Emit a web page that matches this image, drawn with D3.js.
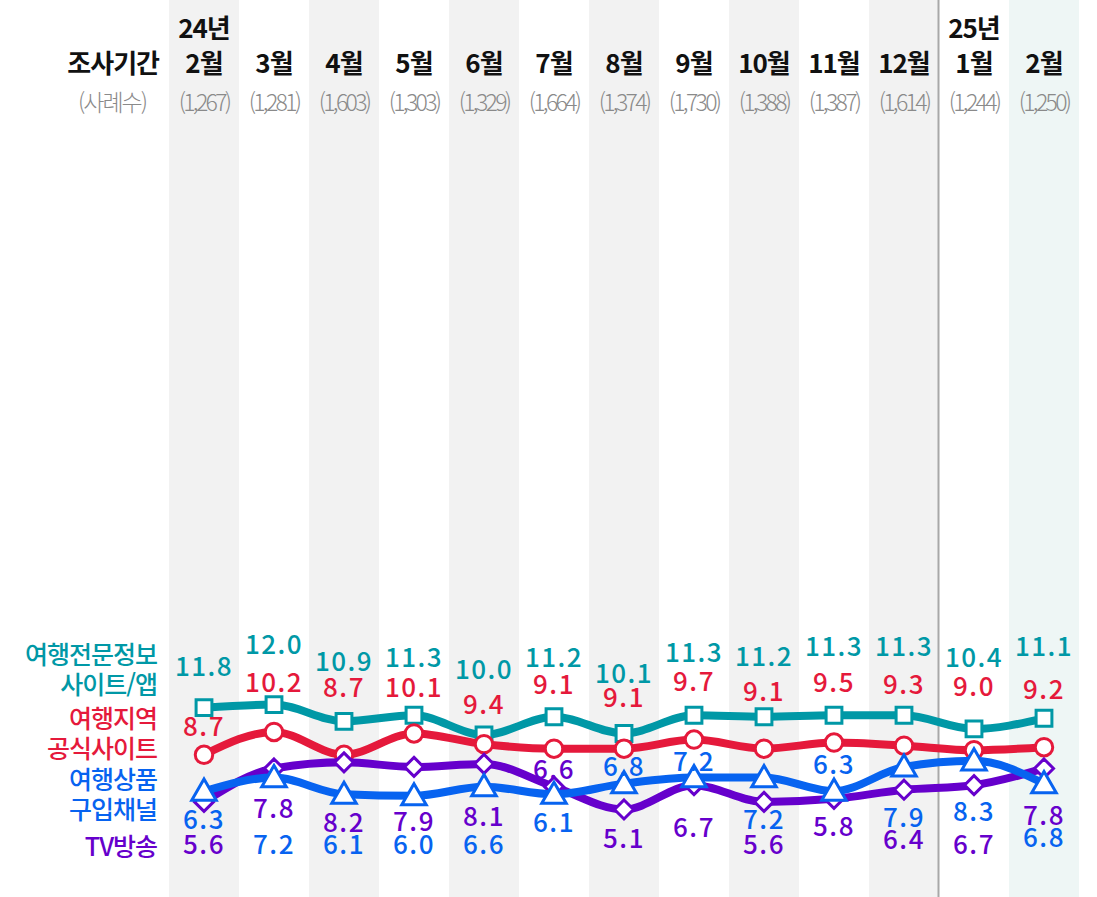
<!DOCTYPE html>
<html lang="ko">
<head>
    <meta charset="UTF-8">
    <title>조사기간별 여행정보 획득 경로</title>
    <script src="https://d3js.org/d3.v7.min.js"></script>
    <style>
        body {
            margin: 0;
            font-family: "Noto Sans CJK KR", "Noto Sans", sans-serif;
            background: #fff;
        }
        .month { font-size: 26px; font-weight: 700; fill: #111; letter-spacing: -1px; }
        .count { font-size: 23px; font-weight: 300; fill: #8a8a8a; letter-spacing: -2.7px; }
        .legend { font-size: 25px; font-weight: 500; letter-spacing: -1px; }
        .value { font-size: 26px; font-weight: 500; letter-spacing: 1.5px; }
    </style>
</head>
<body>
    <div id="chart"></div>
    <script>
        // Survey periods and sample sizes
        const years = ["24년", "", "", "", "", "", "", "", "", "", "", "25년", ""];
        const months = ["2월", "3월", "4월", "5월", "6월", "7월", "8월", "9월", "10월", "11월", "12월", "1월", "2월"];
        const counts = ["(1,267)", "(1,281)", "(1,603)", "(1,303)", "(1,329)", "(1,664)", "(1,374)", "(1,730)", "(1,388)", "(1,387)", "(1,614)", "(1,244)", "(1,250)"];

        // Series values (%)
        const travelSites = [11.8, 12.0, 10.9, 11.3, 10.0, 11.2, 10.1, 11.3, 11.2, 11.3, 11.3, 10.4, 11.1];
        const regionSites = [8.7, 10.2, 8.7, 10.1, 9.4, 9.1, 9.1, 9.7, 9.1, 9.5, 9.3, 9.0, 9.2];
        const tvShows = [5.6, 7.8, 8.2, 7.9, 8.1, 6.6, 5.1, 6.7, 5.6, 5.8, 6.4, 6.7, 7.8];
        const productChannels = [6.3, 7.2, 6.1, 6.0, 6.6, 6.1, 6.8, 7.2, 7.2, 6.3, 7.9, 8.3, 6.8];

        // Label nudges (px from the point), picked to avoid overlaps
        const travelDy = [-41, -60, -59, -57, -65, -59, -60, -62, -60, -68, -68, -71, -71];
        const regionDy = [-28, -49, -67, -46, -39, -64, -51, -58, -57, -60, -61, -63, -57];
        const tvDy = [43, 40, 61, 55, 53, -17, 29, 43, 43, 28, 50, 60, 47];
        const productDy = [29, 67, 51, 49, 58, 29, -17, -16, 42, -26, 51, 51, 54];

        const series = [
            { name: ["여행전문정보", "사이트/앱"], values: travelSites, dy: travelDy, color: "#0098a6", symbol: d3.symbolSquare, size: 250, legendY: [655, 685] },
            { name: ["여행지역", "공식사이트"], values: regionSites, dy: regionDy, color: "#e5193b", symbol: d3.symbolCircle, size: 240, legendY: [719, 749] },
            { name: ["TV방송"], values: tvShows, dy: tvDy, color: "#6600cc", symbol: d3.symbolDiamond2, size: 230, legendY: [847] },
            { name: ["여행상품", "구입채널"], values: productChannels, dy: productDy, color: "#0763f0", symbol: d3.symbolTriangle, size: 260, legendY: [780, 810] }
        ];

        const width = 1097;
        const height = 897;

        const svg = d3.select("#chart")
            .append("svg")
            .attr("width", width)
            .attr("height", height);

        const x = d3.scaleBand()
            .domain(d3.range(months.length))
            .range([169, 1079]);
        const cx = i => x(i) + x.bandwidth() / 2;

        const y = d3.scaleLinear()
            .domain([0, 50])
            .range([887, 127]);

        // Column shading
        svg.selectAll(".band")
            .data(d3.range(months.length).filter(i => i % 2 === 0))
            .enter().append("rect")
            .attr("x", i => x(i))
            .attr("y", 0)
            .attr("width", x.bandwidth())
            .attr("height", height)
            .attr("fill", i => i === months.length - 1 ? "#eef6f5" : "#f2f2f2");

        // Year divider between 12월 and 1월
        svg.append("line")
            .attr("x1", x(11) - 0.5)
            .attr("x2", x(11) - 0.5)
            .attr("y1", 0)
            .attr("y2", height)
            .attr("stroke", "#a8a8a8")
            .attr("stroke-width", 2);

        // Header
        svg.append("text")
            .attr("class", "month")
            .attr("x", 159)
            .attr("y", 73)
            .attr("text-anchor", "end")
            .text("조사기간");
        svg.append("text")
            .attr("class", "count")
            .attr("x", 112)
            .attr("y", 111)
            .attr("text-anchor", "middle")
            .style("letter-spacing", "-2px")
            .text("(사례수)");

        svg.selectAll(".year")
            .data(years)
            .enter().append("text")
            .attr("class", "month")
            .attr("x", (d, i) => cx(i))
            .attr("y", 38)
            .attr("text-anchor", "middle")
            .text(d => d);

        svg.selectAll(".mon")
            .data(months)
            .enter().append("text")
            .attr("class", "month")
            .attr("x", (d, i) => cx(i))
            .attr("y", 73)
            .attr("text-anchor", "middle")
            .text(d => d);

        svg.selectAll(".cnt")
            .data(counts)
            .enter().append("text")
            .attr("class", "count")
            .attr("x", (d, i) => cx(i))
            .attr("y", 111)
            .attr("text-anchor", "middle")
            .text(d => d);

        // Lines, markers and legend
        const line = d3.line()
            .x((d, i) => cx(i))
            .y(d => y(d))
            .curve(d3.curveMonotoneX);

        series.forEach(s => {
            const g = svg.append("g");

            g.append("path")
                .datum(s.values)
                .attr("d", line)
                .attr("fill", "none")
                .attr("stroke", s.color)
                .attr("stroke-width", 8)
                .attr("stroke-linejoin", "round");

            g.selectAll(".marker")
                .data(s.values)
                .enter().append("path")
                .attr("d", d3.symbol().type(s.symbol).size(s.size))
                .attr("transform", (d, i) => `translate(${cx(i)},${y(d) + (s.symbol === d3.symbolTriangle ? 2 : 0)})`)
                .attr("fill", "#fff")
                .attr("stroke", s.color)
                .attr("stroke-width", 3);

            g.selectAll(".legend")
                .data(s.name)
                .enter().append("text")
                .attr("class", "legend")
                .attr("x", 157)
                .attr("y", (d, i) => s.legendY[i])
                .attr("dy", "0.35em")
                .attr("text-anchor", "end")
                .attr("fill", s.color)
                .text(d => d);
        });

        // Value labels on top of everything
        series.forEach(s => {
            svg.append("g").selectAll("text")
                .data(s.values)
                .enter().append("text")
                .attr("class", "value")
                .attr("x", (d, i) => cx(i))
                .attr("y", (d, i) => y(d) + s.dy[i])
                .attr("dy", "0.35em")
                .attr("text-anchor", "middle")
                .attr("fill", s.color)
                .text(d => d.toFixed(1));
        });
    </script>
</body>
</html>
